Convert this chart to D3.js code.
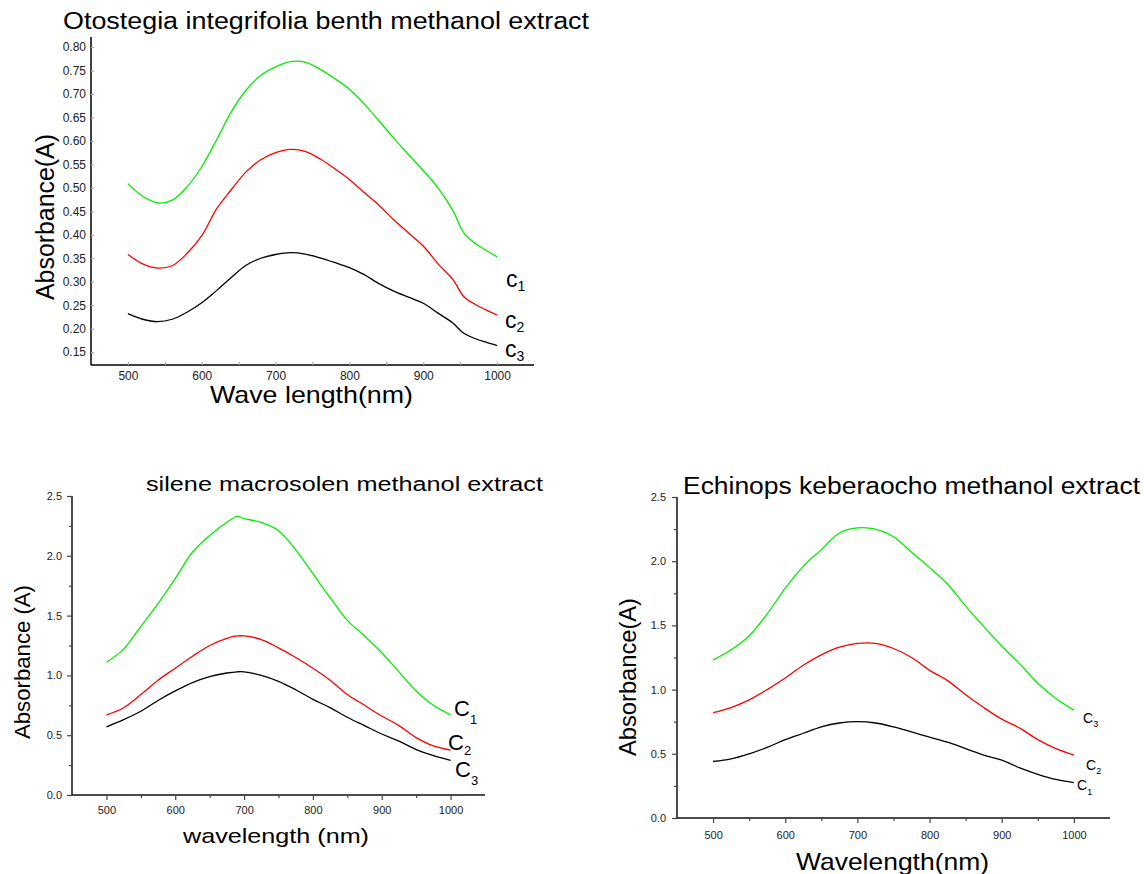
<!DOCTYPE html>
<html>
<head>
<meta charset="utf-8">
<script src="https://cdn.jsdelivr.net/npm/d3@7"></script>
<style>
  html, body { margin: 0; padding: 0; background: #fff; }
  svg { display: block; }
  text { font-family: "Liberation Sans", Arial, sans-serif; }
</style>
</head>
<body>
<svg id="chart" width="1144" height="874"></svg>
<script>
// ---------------- DATA ----------------
// Chart A: Otostegia integrifolia benth methanol extract
const wavelengthsA = [500,520,540,560,580,600,620,640,660,680,700,720,740,760,780,800,820,840,860,880,900,920,940,955,970,985,1000];
const otostegiaC1 = [0.509,0.482,0.468,0.474,0.502,0.545,0.602,0.662,0.708,0.740,0.758,0.769,0.768,0.753,0.733,0.710,0.679,0.643,0.606,0.571,0.537,0.500,0.452,0.404,0.382,0.367,0.353];
const otostegiaC2 = [0.358,0.338,0.329,0.334,0.360,0.398,0.455,0.496,0.534,0.560,0.575,0.582,0.578,0.562,0.541,0.518,0.490,0.463,0.432,0.404,0.376,0.338,0.305,0.268,0.252,0.240,0.229];
const otostegiaC3 = [0.232,0.220,0.215,0.220,0.235,0.255,0.281,0.309,0.335,0.350,0.358,0.362,0.359,0.351,0.341,0.330,0.315,0.296,0.280,0.267,0.254,0.233,0.212,0.190,0.179,0.171,0.164];

// Chart B: silene macrosolen methanol extract
const wavelengthsB = [500,525,550,575,600,625,650,675,690,700,725,750,775,800,825,850,875,900,925,950,975,1000];
const sileneC1 = [1.11,1.22,1.41,1.60,1.81,2.03,2.17,2.28,2.33,2.31,2.28,2.21,2.05,1.85,1.65,1.46,1.33,1.19,1.03,0.87,0.75,0.67];
const sileneC2 = [0.67,0.73,0.84,0.96,1.06,1.16,1.25,1.31,1.33,1.33,1.30,1.23,1.15,1.06,0.96,0.84,0.75,0.66,0.58,0.48,0.41,0.375];
const sileneC3 = [0.57,0.63,0.70,0.79,0.87,0.94,0.99,1.02,1.03,1.03,1.00,0.95,0.88,0.80,0.73,0.65,0.58,0.51,0.45,0.38,0.33,0.29];

// Chart C: Echinops keberaocho methanol extract
const wavelengthsC = [500,525,550,575,600,625,650,675,700,725,750,775,800,825,850,875,900,925,950,975,1000];
const echinopsC3 = [1.23,1.31,1.42,1.59,1.79,1.96,2.09,2.22,2.26,2.25,2.19,2.07,1.95,1.82,1.65,1.49,1.34,1.20,1.05,0.93,0.84];
const echinopsC2 = [0.82,0.86,0.92,1.00,1.09,1.19,1.27,1.33,1.36,1.36,1.32,1.25,1.15,1.07,0.96,0.86,0.77,0.70,0.61,0.54,0.49];
const echinopsC1 = [0.44,0.46,0.50,0.55,0.61,0.66,0.71,0.74,0.75,0.74,0.71,0.67,0.63,0.59,0.54,0.49,0.45,0.39,0.34,0.30,0.275];

// Ticks and labels
const xTicks = [500,600,700,800,900,1000];
const xMinorTicks = [500,550,600,650,700,750,800,850,900,950,1000];
const yTicksA = [0.15,0.20,0.25,0.30,0.35,0.40,0.45,0.50,0.55,0.60,0.65,0.70,0.75,0.80];
const yTicksBC = [0.0,0.5,1.0,1.5,2.0,2.5];
const yMinorBC = [0.25,0.75,1.25,1.75,2.25];

const titles = ["Otostegia integrifolia benth methanol extract","silene macrosolen methanol extract","Echinops keberaocho methanol extract"];
const xTitles = ["Wave length(nm)","wavelength (nm)","Wavelength(nm)"];
const yTitles = ["Absorbance(A)","Absorbance (A)","Absorbance(A)"];
const seriesColors = ["#00ee00","#ff0000","#000000"];

// ---------------- DRAWING ----------------
const svg = d3.select("#chart");

function fitText(sel, width) {
  sel.attr("textLength", width).attr("lengthAdjust", "spacingAndGlyphs");
}

function addLabel(g, x, y, main, sub, fs, sfs, sdy) {
  const t = g.append("text").attr("x", x).attr("y", y).attr("font-size", fs).attr("fill", "#000");
  t.append("tspan").text(main);
  t.append("tspan").attr("font-size", sfs).attr("dy", sdy).text(sub);
}

function drawChart(cfg) {
  const g = svg.append("g");
  const x = d3.scaleLinear().domain([450, 1050]).range([cfg.x0, cfg.x1]);
  const y = d3.scaleLinear().domain(cfg.yDomain).range([cfg.yBottom, cfg.yTop]);

  // axis lines
  g.append("line").attr("x1", cfg.x0).attr("x2", cfg.x0).attr("y1", cfg.yTop).attr("y2", cfg.yBottom)
    .attr("stroke", cfg.axisColor).attr("stroke-width", 1.5);
  g.append("line").attr("x1", cfg.x0).attr("x2", cfg.x1).attr("y1", cfg.yBottom).attr("y2", cfg.yBottom)
    .attr("stroke", cfg.axisColor).attr("stroke-width", 1.5);

  // y axis
  const ya = g.append("g").attr("transform", `translate(${cfg.x0},0)`)
    .call(d3.axisLeft(y).tickValues(cfg.yTicks).tickFormat(d3.format(cfg.yFormat))
      .tickSizeInner(cfg.tickIn).tickSizeOuter(0).tickPadding(cfg.yPad));
  ya.select(".domain").remove();
  ya.selectAll(".tick line").attr("stroke", cfg.tickColor).attr("stroke-width", 1.2);
  ya.selectAll(".tick text").attr("font-size", cfg.tickFont).attr("fill", cfg.tickTextColor)
    .attr("font-family", '"Liberation Sans", Arial, sans-serif');

  const yam = g.append("g").attr("transform", `translate(${cfg.x0},0)`)
    .call(d3.axisLeft(y).tickValues(cfg.yMinor).tickFormat("").tickSizeInner(cfg.tickMinor).tickSizeOuter(0));
  yam.select(".domain").remove();
  yam.selectAll(".tick line").attr("stroke", cfg.tickColor).attr("stroke-width", 1.2);

  // x axis
  const xa = g.append("g").attr("transform", `translate(0,${cfg.yBottom})`)
    .call(d3.axisBottom(x).tickValues(xTicks).tickFormat(d3.format("d"))
      .tickSizeInner(cfg.xTickIn).tickSizeOuter(0).tickPadding(cfg.xPad));
  xa.select(".domain").remove();
  xa.selectAll(".tick line").attr("stroke", cfg.tickColor).attr("stroke-width", 1.2);
  xa.selectAll(".tick text").attr("font-size", cfg.tickFont).attr("fill", cfg.tickTextColor)
    .attr("font-family", '"Liberation Sans", Arial, sans-serif');

  const xam = g.append("g").attr("transform", `translate(0,${cfg.yBottom})`)
    .call(d3.axisBottom(x).tickValues(xMinorTicks.filter(v => xTicks.indexOf(v) < 0)).tickFormat("")
      .tickSizeInner(cfg.xTickMinor).tickSizeOuter(0));
  xam.select(".domain").remove();
  xam.selectAll(".tick line").attr("stroke", cfg.tickColor).attr("stroke-width", 1.2);

  // series
  const line = d3.line().x(d => x(d[0])).y(d => y(d[1])).curve(d3.curveCatmullRom);
  cfg.series.forEach((vals, i) => {
    g.append("path").datum(cfg.wl.map((w, k) => [w, vals[k]]))
      .attr("d", line).attr("fill", "none").attr("stroke", seriesColors[i]).attr("stroke-width", 1.3);
  });

  // titles
  const t = g.append("text").attr("x", cfg.title.x).attr("y", cfg.title.y)
    .attr("font-size", cfg.title.fs).text(cfg.title.text);
  fitText(t, cfg.title.w);
  const xt = g.append("text").attr("x", cfg.xTitle.x).attr("y", cfg.xTitle.y)
    .attr("font-size", cfg.xTitle.fs).text(cfg.xTitle.text);
  fitText(xt, cfg.xTitle.w);
  const yt = g.append("text").attr("transform", `translate(${cfg.yTitle.x},${cfg.yTitle.y}) rotate(-90)`)
    .attr("text-anchor", "middle").attr("font-size", cfg.yTitle.fs).text(cfg.yTitle.text);
  fitText(yt, cfg.yTitle.w);

  cfg.labels.forEach(l => addLabel(g, l.x, l.y, l.main, l.sub, l.fs, l.sfs, l.sdy));
}

drawChart({
  x0: 91, x1: 534, yTop: 37, yBottom: 365, yDomain: [0.1225, 0.8215],
  yTicks: yTicksA, yMinor: [], yFormat: ".2f",
  tickIn: -3, tickMinor: -2, xTickIn: -3, xTickMinor: -3, yPad: 5, xPad: 6,
  axisColor: "#000", tickColor: "#aaa", tickTextColor: "#222", tickFont: 12,
  wl: wavelengthsA, series: [otostegiaC1, otostegiaC2, otostegiaC3],
  title: { text: titles[0], x: 63, y: 29, fs: 23, w: 526 },
  xTitle: { text: xTitles[0], x: 210, y: 403, fs: 24, w: 203 },
  yTitle: { text: yTitles[0], x: 54, y: 217, fs: 25, w: 166 },
  labels: [
    { x: 506, y: 287, main: "c", sub: "1", fs: 23, sfs: 14, sdy: 4 },
    { x: 505, y: 328, main: "c", sub: "2", fs: 23, sfs: 14, sdy: 4 },
    { x: 505, y: 357, main: "c", sub: "3", fs: 23, sfs: 14, sdy: 4 }
  ]
});

drawChart({
  x0: 72, x1: 485, yTop: 496, yBottom: 795, yDomain: [0, 2.5],
  yTicks: yTicksBC, yMinor: yMinorBC, yFormat: ".1f",
  tickIn: 5, tickMinor: 3, xTickIn: 5, xTickMinor: 3, yPad: 5, xPad: 6,
  axisColor: "#111", tickColor: "#444", tickTextColor: "#222", tickFont: 11,
  wl: wavelengthsB, series: [sileneC1, sileneC2, sileneC3],
  title: { text: titles[1], x: 146, y: 491, fs: 20, w: 397 },
  xTitle: { text: xTitles[1], x: 183, y: 843, fs: 21, w: 186 },
  yTitle: { text: yTitles[1], x: 30, y: 662, fs: 22, w: 154 },
  labels: [
    { x: 454, y: 716, main: "C", sub: "1", fs: 22, sfs: 13, sdy: 8 },
    { x: 448, y: 750, main: "C", sub: "2", fs: 22, sfs: 13, sdy: 5 },
    { x: 455, y: 777, main: "C", sub: "3", fs: 22, sfs: 13, sdy: 8 }
  ]
});

drawChart({
  x0: 677, x1: 1110, yTop: 497, yBottom: 818, yDomain: [0, 2.5],
  yTicks: yTicksBC, yMinor: yMinorBC, yFormat: ".1f",
  tickIn: 5, tickMinor: 3, xTickIn: 5, xTickMinor: 3, yPad: 6, xPad: 8,
  axisColor: "#111", tickColor: "#444", tickTextColor: "#222", tickFont: 11,
  wl: wavelengthsC, series: [echinopsC3, echinopsC2, echinopsC1],
  title: { text: titles[2], x: 683, y: 494, fs: 23, w: 457 },
  xTitle: { text: xTitles[2], x: 796, y: 870, fs: 24, w: 193 },
  yTitle: { text: yTitles[2], x: 636, y: 677, fs: 24, w: 158 },
  labels: [
    { x: 1083, y: 723, main: "C", sub: "3", fs: 14, sfs: 9, sdy: 4 },
    { x: 1086, y: 770, main: "C", sub: "2", fs: 14, sfs: 9, sdy: 4 },
    { x: 1077, y: 790, main: "C", sub: "1", fs: 14, sfs: 9, sdy: 5 }
  ]
});
</script>
</body>
</html>
